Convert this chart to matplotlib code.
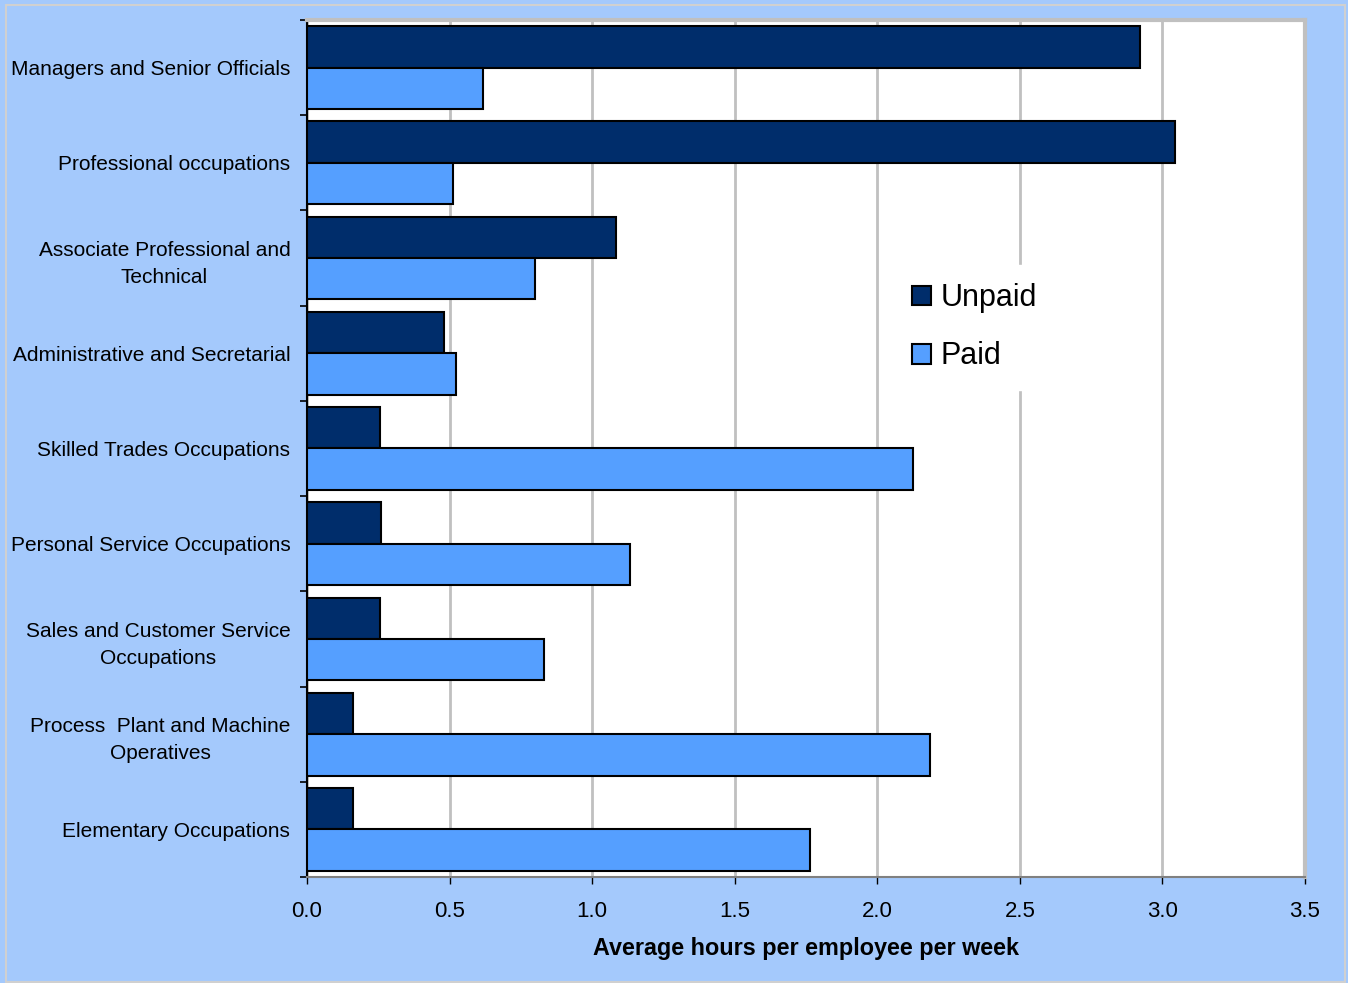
import numpy as np
import matplotlib.pyplot as plt
from matplotlib.patches import Rectangle

# occupations, top to bottom
categories = [
    "Managers and Senior Officials",
    "Professional occupations",
    "Associate Professional and\nTechnical",
    "Administrative and Secretarial",
    "Skilled Trades Occupations",
    "Personal Service Occupations",
    "Sales and Customer Service\nOccupations",
    "Process  Plant and Machine\nOperatives",
    "Elementary Occupations",
]
unpaid = [2.92, 3.045, 1.083, 0.48, 0.256, 0.26, 0.256, 0.161, 0.161]
paid = [0.617, 0.512, 0.80, 0.523, 2.126, 1.133, 0.831, 2.185, 1.764]
xticks = [0.0, 0.5, 1.0, 1.5, 2.0, 2.5, 3.0, 3.5]

plt.rcParams['font.family'] = ['Liberation Sans', 'DejaVu Sans']

bg = '#A4C9FC'
fig = plt.figure(figsize=(13.48, 9.83), dpi=100, facecolor=bg)
# outer light border
fig.patches.append(Rectangle((0.0045, 0.001), 0.993, 0.9935, transform=fig.transFigure,
                             fill=False, edgecolor='#D0D0D0', linewidth=1.5))

ax = fig.add_axes([0.2277, 0.1078, 0.7404, 0.8719])
ax.set_facecolor('white')

y = np.arange(len(categories))
h = 0.435
ax.barh(y - h / 2, unpaid, height=h, color='#002D6B', edgecolor='black',
        linewidth=1.5, label='Unpaid', zorder=3)
ax.barh(y + h / 2, paid, height=h, color='#559FFF', edgecolor='black',
        linewidth=1.5, label='Paid', zorder=3)

ax.set_xlim(0, 3.5)
ax.set_ylim(len(categories) - 0.5, -0.5)
ax.set_xticks(xticks)
ax.set_xticklabels([f"{v:.1f}" for v in xticks], fontsize=16)
ax.set_yticks(y)
ax.set_yticklabels(categories, fontsize=15, multialignment='center', linespacing=1.55)
ax.set_yticks(np.arange(len(categories) + 1) - 0.5, minor=True)
ax.tick_params(axis='y', which='major', length=0, pad=12)
ax.tick_params(axis='y', which='minor', length=5, width=1.2, direction='out')
ax.tick_params(axis='x', length=5, width=1.0, direction='out', pad=12)

ax.grid(axis='x', color='#C0C0C0', linewidth=2, zorder=0)
for s in ['top', 'right']:
    ax.spines[s].set_color('#C0C0C0')
    ax.spines[s].set_linewidth(3)
ax.spines['left'].set_color('black')
ax.spines['left'].set_linewidth(1.5)
ax.spines['bottom'].set_color('#808080')
ax.spines['bottom'].set_linewidth(1.5)

ax.set_xlabel('Average hours per employee per week', fontsize=16.8,
              fontweight='bold', labelpad=11)

leg = ax.legend(loc='upper left', bbox_to_anchor=(0.573, 0.732), fontsize=22,
                frameon=True, facecolor='white', edgecolor='white', framealpha=1,
                fancybox=False, handlelength=0.62, handleheight=0.62,
                handletextpad=0.3, labelspacing=0.92, borderpad=0.6)
leg.set_zorder(5)

fig.savefig('out.png', dpi=100, facecolor=bg)
